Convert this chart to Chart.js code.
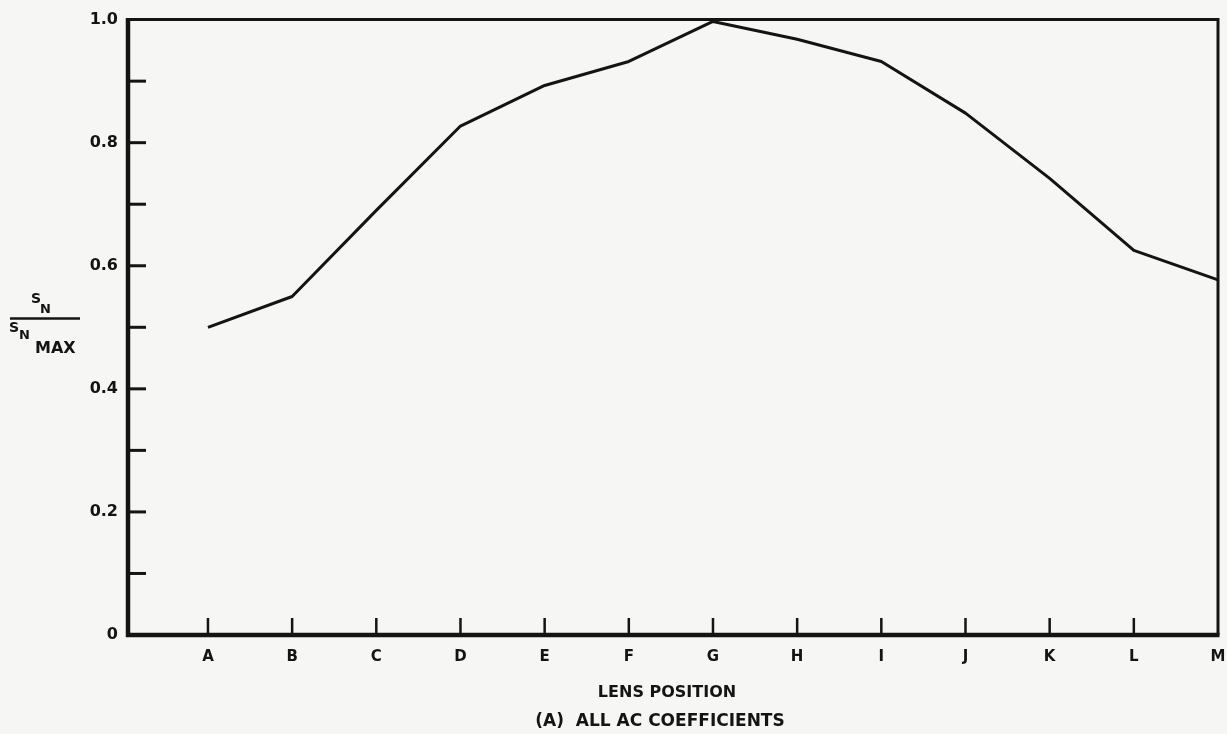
<!DOCTYPE html>
<html>
<head>
<meta charset="utf-8">
<script src="https://cdn.jsdelivr.net/npm/chart.js@4/dist/chart.umd.min.js"></script>
<style>
  html, body { margin: 0; padding: 0; background: #f6f6f4; }
  #c { display: block; }
</style>
</head>
<body>
<canvas id="c" width="1227" height="734"></canvas>
<script>
// ---- data ----
const lensPositions = ['A','B','C','D','E','F','G','H','I','J','K','L','M'];
const snRatio = [0.50, 0.55, 0.69, 0.827, 0.893, 0.932, 0.997, 0.968, 0.932, 0.848, 0.742, 0.625, 0.577];
const yTickValues = [0, 0.2, 0.4, 0.6, 0.8, 1.0];
const yTickLabels = ['0', '0.2', '0.4', '0.6', '0.8', '1.0'];
const yMinorTicks = [0.1, 0.3, 0.5, 0.7, 0.9];
const xTitle = 'LENS POSITION';
const caption = '(A)  ALL AC COEFFICIENTS';

const INK = '#141414';
const FONT = '"DejaVu Sans", "Liberation Sans", Arial, sans-serif';

const framePlugin = {
  id: 'frame',
  beforeDraw(chart) {
    const ctx = chart.ctx;
    ctx.save();
    ctx.fillStyle = '#f6f6f4';
    ctx.fillRect(0, 0, chart.width, chart.height);
    ctx.restore();
  },
  afterDatasetsDraw(chart) {
    const ctx = chart.ctx;
    const a = chart.chartArea;
    const xs = chart.scales.x, ys = chart.scales.y;
    ctx.save();
    ctx.strokeStyle = INK;
    ctx.lineCap = 'butt';
    // top & right (thinner)
    ctx.lineWidth = 3;
    ctx.beginPath();
    ctx.moveTo(a.left, a.top); ctx.lineTo(a.right, a.top); ctx.lineTo(a.right, a.bottom);
    ctx.stroke();
    // left & bottom (thicker)
    ctx.lineWidth = 4.5;
    ctx.beginPath();
    ctx.moveTo(a.left, a.top - 1.5); ctx.lineTo(a.left, a.bottom); ctx.lineTo(a.right + 1.5, a.bottom);
    ctx.stroke();
    // inward y ticks
    ctx.lineWidth = 3;
    const yAll = yTickValues.concat(yMinorTicks);
    yAll.forEach(v => {
      if (v === 0 || v === 1) return;
      const py = ys.getPixelForValue(v);
      ctx.beginPath(); ctx.moveTo(a.left, py); ctx.lineTo(a.left + 18, py); ctx.stroke();
    });
    // inward x ticks
    ctx.lineWidth = 2.5;
    lensPositions.forEach((_, i) => {
      if (i === lensPositions.length - 1) return;
      const px = xs.getPixelForValue(i);
      ctx.beginPath(); ctx.moveTo(px, a.bottom); ctx.lineTo(px, a.bottom - 17); ctx.stroke();
    });
    ctx.restore();
  },
  afterDraw(chart) {
    const ctx = chart.ctx;
    ctx.save();
    ctx.fillStyle = INK;
    ctx.strokeStyle = INK;
    ctx.textBaseline = 'alphabetic';
    // x title and caption
    ctx.textAlign = 'center';
    ctx.font = 'bold 16px ' + FONT;
    ctx.fillText(xTitle, 667, 697);
    ctx.font = 'bold 17px ' + FONT;
    ctx.fillText(caption, 660, 726);
    // y title: fraction S_N / S_N_MAX
    ctx.textAlign = 'left';
    ctx.font = 'bold 14px ' + FONT;
    ctx.fillText('S', 31, 303);
    ctx.font = 'bold 13px ' + FONT;
    ctx.fillText('N', 40, 313);
    ctx.lineWidth = 2.5;
    ctx.beginPath(); ctx.moveTo(10, 318.5); ctx.lineTo(80, 318.5); ctx.stroke();
    ctx.font = 'bold 14px ' + FONT;
    ctx.fillText('S', 9, 332);
    ctx.font = 'bold 13px ' + FONT;
    ctx.fillText('N', 19, 339);
    ctx.font = 'bold 16px ' + FONT;
    ctx.fillText('MAX', 35, 353);
    ctx.restore();
  }
};

new Chart(document.getElementById('c'), {
  type: 'line',
  data: {
    datasets: [{
      data: lensPositions.map((_, i) => ({ x: i, y: snRatio[i] })),
      borderColor: INK,
      borderWidth: 3,
      pointRadius: 0,
      tension: 0,
      fill: false,
      clip: false,
      borderJoinStyle: 'round'
    }]
  },
  options: {
    responsive: false,
    animation: false,
    devicePixelRatio: 1,
    layout: { padding: { top: 15, right: 9, left: 0, bottom: 0 } },
    plugins: { legend: { display: false }, tooltip: { enabled: false } },
    scales: {
      x: {
        type: 'linear',
        min: -0.95,
        max: lensPositions.length - 1,
        grid: { display: false, drawTicks: true, tickLength: 13 },
        border: { display: false },
        afterBuildTicks: (s) => { s.ticks = lensPositions.map((_, i) => ({ value: i })); },
        afterFit: (s) => { s.height = 99; s.paddingLeft = 0; s.paddingRight = 0; },
        ticks: {
          autoSkip: false,
          maxRotation: 0,
          padding: 0,
          color: INK,
          font: { family: FONT, size: 15, weight: 'bold' },
          callback: (v) => lensPositions[v] ?? ''
        }
      },
      y: {
        min: 0,
        max: 1,
        grid: { display: false, drawTicks: false },
        border: { display: false },
        afterBuildTicks: (s) => { s.ticks = yTickValues.map(v => ({ value: v })); },
        afterFit: (s) => { s.width = 128; },
        ticks: {
          padding: 10,
          color: INK,
          font: { family: FONT, size: 16, weight: 'bold' },
          callback: (v) => { const k = yTickValues.findIndex(t => Math.abs(t - v) < 1e-6); return k >= 0 ? yTickLabels[k] : ''; }
        }
      }
    }
  },
  plugins: [framePlugin]
});
</script>
</body>
</html>
